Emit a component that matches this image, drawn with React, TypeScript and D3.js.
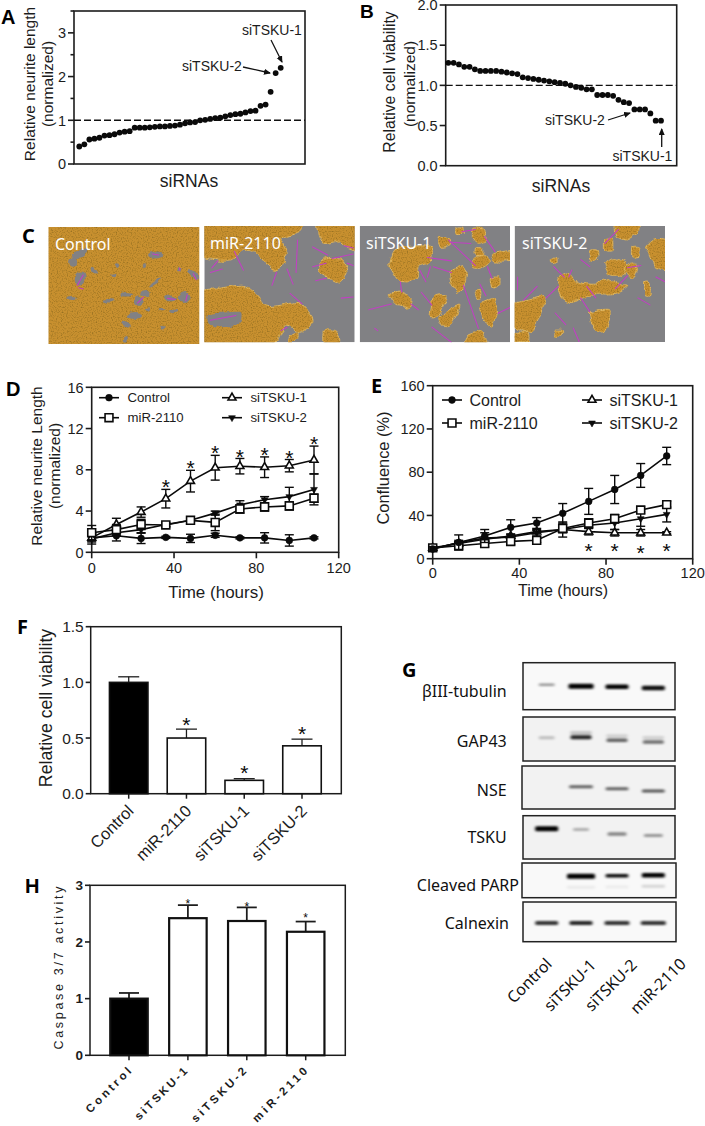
import React from "react";
import * as d3 from "d3";

const SANS = "'Liberation Sans', Arial, sans-serif";
const CAL = "'Noto Sans', 'Open Sans', sans-serif";
const INK = "#1c1c1c";

// Panel A and B
const neuriteLengths = [0.4,0.45,0.56,0.58,0.6,0.65,0.66,0.68,0.72,0.74,0.75,0.83,0.83,0.83,0.84,0.85,0.86,0.86,0.87,0.88,0.9,0.93,0.95,0.96,1.0,1.01,1.03,1.05,1.06,1.09,1.12,1.14,1.15,1.18,1.21,1.22,1.33,1.36,1.65,2.08,2.2];
const cellViability = [1.28,1.28,1.26,1.23,1.23,1.2,1.18,1.18,1.18,1.18,1.17,1.16,1.15,1.14,1.1,1.09,1.08,1.07,1.06,1.05,1.04,1.03,1.02,1.0,0.98,0.97,0.95,0.95,0.88,0.88,0.88,0.87,0.82,0.79,0.78,0.7,0.7,0.7,0.65,0.56,0.56];

// Panel D and E
const hours = [0,12,24,36,48,60,72,84,96,108];
const dControl = [1.4,1.6,1.35,1.45,1.35,1.65,1.4,1.4,1.15,1.4];
const dControlErr = [0.3,0.5,0.5,0.1,0.4,0.2,0.1,0.5,0.55,0.1];
const dMir = [1.9,2.2,2.7,2.65,3.1,2.9,4.2,4.4,4.5,5.25];
const dMirErr = [0.7,0.5,0.5,0.2,0.3,0.8,0.4,0.4,0.4,0.4];
const dT1 = [1.4,2.7,3.9,5.2,6.9,8.2,8.35,8.25,8.4,8.95];
const dT1Err = [0.4,0.6,0.5,0.9,1.05,1.2,0.75,1.0,0.6,1.35];
const dT2 = [1.3,1.9,2.2,2.7,3.1,3.8,4.6,5.1,5.4,6.1];
const dT2Err = [0.5,0.3,0.3,0.2,0.3,0.2,0.4,0.3,0.9,1.5];
const dStarHours = [36,48,60,72,84,96,108];
const dStarValues = [6.8,8.7,10.1,9.76,9.9,9.66,11.05];

const eControl = [9,15,21,29,33,42,53,64,77,95];
const eControlErr = [2,7,6,7,5,9,12,13,11,8];
const eMir = [10,12,14,16,17,28,33,37,45,50];
const eMirErr = [2,2,3,3,2,4,4,4,3,3];
const eT1 = [10,14,18,21,25,27,25,24,24,24];
const eT1Err = [1,1,1,1,1,1,3,3,3,1];
const eT2 = [9,15,19,20,24,27,31,33,37,41];
const eT2Err = [1,2,5,3,3,7,3,6,7,7];
const eStarHours = [72,84,96,108];
const eStarValues = [12,12,10,12];

// Panel F and H
const fCats = ["Control","miR-2110","siTSKU-1","siTSKU-2"];
const fVals = [1.0,0.5,0.12,0.43];
const fErr = [0.05,0.08,0.015,0.06];
const fStars = [null,0.66,0.23,0.58];
const hCats = ["Control","siTSKU-1","siTSKU-2","miR-2110"];
const hVals = [1.0,2.42,2.37,2.18];
const hErr = [0.1,0.23,0.24,0.18];
const hStars = [null,2.73,2.67,2.475];
const hLabelLengths = [59,69,72,72];

// Panel C micrographs: outlines in percent of each image
const controlHoles = [[21,23,6,3,-30],[16,30,3,4,0],[21,44,3.5,6,15],[30,37,3,2,30],[71,24,5,3,0],[87,36,1.5,2,0],[96,40,4,3,40],[71,47,5,1.5,-35],[64,57,3,3,0],[60,63,2.5,3.5,30],[52,57,4,1.5,0],[40,63,4,1.5,0],[15,61,3,2,0],[57,76,5,2.5,0],[51,83,3,1.5,20],[66,70,2,1.5,0],[81,61,4,2.5,0],[90,60,3.5,5,0],[51,96,1.5,3,20],[76,86,1.5,1.5,0],[43,41,2,1.5,0],[46,33,1.5,2,0],[83,72,3,1.5,0],[75,71,2,1,0],[64,33,1.5,2,0]];
const controlNeurites = [[23,41,19,50],[20,52,23,53],[69,23,73,24],[87,35,87,37],[59,65,63,60],[96,40,98,45],[79,61,84,62],[92,58,91,63]];
const mirBlobs = [
  [[-3,-3],[63,-3],[62,6],[51,11],[55,23],[53,33],[47,38],[41,33],[35,23],[26,21],[18,29],[8,29],[-3,25]],
  [[76,-3],[103,-3],[103,21],[95,19],[90,13],[80,15],[76,8]],
  [[81,28],[92,29],[95,41],[90,49],[83,45],[76,39],[77,32]],
  [[-3,58],[8,54],[26,51],[36,60],[41,69],[51,68],[63,66],[71,78],[71,86],[63,91],[55,86],[51,92],[44,103],[-3,103]],
  [[80,90],[87,90],[90,97],[89,103],[80,103]],
  [[56,94],[62,91],[62,97],[56,103]],
];
const mirHoles = [[[3,76],[24,74],[23,84],[11,87],[3,84]]];
const mirNeurites = [[48,40,45,51],[55,37,59,50],[62,12,61,40],[72,18,82,25],[93,17,99,19],[85,28,99,24],[95,32,99,34],[72,35,81,32],[74,47,81,45],[57,58,65,67],[91,62,99,61],[51,90,55,87],[4,40,12,37],[20,22,26,38],[4,81,21,77],[9,30,5,36]];
const t1Blobs = [
  [[23,21],[30,18],[39,17],[48,18],[48,28],[45,32],[39,35],[38,44],[33,48],[26,47],[20,34]],
  [[52,10],[60,11],[60,17],[54,19]],
  [[76,2],[83,3],[84,12],[79,15],[75,9]],
  [[75,30],[81,25],[87,30],[82,36],[76,36]],
  [[60,40],[68,35],[71,42],[69,54],[65,57],[61,50]],
  [[19,58],[28,57],[34,61],[33,71],[27,68],[23,67]],
  [[49,61],[57,59],[57,65],[51,78],[47,78]],
  [[53,77],[66,68],[66,72],[60,85],[54,85]],
  [[87,45],[93,44],[93,52],[88,54]],
  [[80,67],[90,62],[91,73],[88,87],[84,82],[81,77]],
  [[69,103],[72,93],[81,90],[84,97],[84,103]],
  [[77,55],[81,55],[81,62],[78,63]],
  [[88,24],[103,21],[103,29],[90,30]],
  [[64,2],[68,2],[68,7],[64,7]],
  [[77,19],[81,19],[81,25],[77,25]],
];
const t1Neurites = [[6,72,21,67],[27,48,28,57],[49,35,61,40],[69,51,79,88],[59,12,77,34],[83,9,90,22],[68,5,77,3],[45,27,61,30],[48,87,61,100],[34,67,39,72],[41,57,48,68],[40,38,44,48],[47,35,45,44],[84,60,80,50],[10,88,12,90],[60,14,74,15],[85,35,88,45],[92,75,100,70]];
const t2Blobs = [
  [[66,-3],[82,-3],[82,6],[75,12],[67,9]],
  [[87,18],[93,11],[103,13],[103,39],[94,35],[90,24]],
  [[24,28],[28,28],[28,32],[24,32]],
  [[50,21],[55,21],[55,29],[50,29]],
  [[60,11],[65,11],[65,21],[60,21]],
  [[78,18],[83,18],[83,26],[78,26]],
  [[86,49],[90,49],[90,59],[86,59]],
  [[29,45],[36,41],[42,49],[53,51],[60,45],[69,51],[75,52],[67,58],[55,59],[46,62],[37,66],[31,62],[29,54]],
  [[60,32],[67,28],[75,33],[72,42],[63,42]],
  [[73,36],[79,31],[82,35],[79,45],[75,42]],
  [[-3,68],[9,64],[20,61],[18,75],[14,84],[12,91],[6,91],[-3,85]],
  [[50,74],[63,72],[63,81],[60,91],[53,90]],
  [[1,92],[9,92],[9,100],[1,100]],
  [[27,90],[31,90],[31,94],[27,94]],
];
const t2Neurites = [[26,35,33,44],[2,44,2,55],[15,52,6,64],[29,52,21,62],[44,62,50,74],[69,3,60,15],[44,29,50,35],[75,43,67,54],[84,34,75,36],[94,44,100,48],[27,75,34,85],[43,100,39,88],[54,62,48,52],[38,38,36,44],[82,62,90,68]];

// Panel G blots
const laneCenters = [440,543,651,760];
const blotNames = ["βIII-tubulin","GAP43","NSE","TSKU","Cleaved PARP","Calnexin"];
const blotStrength = [
  [0.4,1,1,0.95],
  [0.22,0.85,0.6,0.55],
  [0.02,0.6,0.6,0.65],
  [1,0.28,0.45,0.38],
  [0,1,0.95,1],
  [0.8,0.85,0.8,0.8],
];
const blotWidths = [
  [20,29,27,27],
  [20,25,25,25],
  [0,28,27,27],
  [27,20,23,23],
  [0,32,27,27],
  [27,27,29,29],
];
const blotThickness = [
  [2.5,5,4.5,4.5],
  [3,4,3.5,3.5],
  [1,3,3,3],
  [5,3,3.5,3],
  [1,5,3.5,4.5],
  [4,4,4,4],
];
const blotCentres = [
  [0.47,0.5,0.51,0.54],
  [0.47,0.46,0.53,0.57],
  [0,0.48,0.53,0.58],
  [0.3,0.32,0.42,0.46],
  [0,0.38,0.37,0.35],
  [0.53,0.53,0.53,0.53],
];
const blotLowerBand = [
  [0,0,0,0],
  [0,0.22,0.15,0.15],
  [0,0,0,0],
  [0,0,0,0],
  [0,0.06,0.05,0.14],
  [0,0,0,0],
];
const blotFrames = [
  [523,662.7,675,709.7],
  [523,717,675,761],
  [522,766,675,809],
  [523,815.7,675,859],
  [522,863,676,897.7],
  [523,902,676,941.7],
];
const blotLabelPos = [[506.7,697],[506.7,746.7],[506.7,795.7],[506.7,843.3],[519,890.7],[509,929]];
const blotLaneLabels = ["Control","siTSKU-1","siTSKU-2","miR-2110"];
const blotLaneEnds = [[553,956],[597,957],[638,957],[687,956]];

const tr = (x:number,y:number,a:number)=>`translate(${x},${y}) rotate(${a})`;

function Frame({x0,x1,y0,y1,w=1.6}:any){
  return <rect x={x0} y={y0} width={x1-x0} height={y1-y0} fill="none" stroke={INK} strokeWidth={w}/>;
}
function YTicks({y,x0,ticks,fmt,size=14,len=6,weight,minor=[],w=1.6}:any){
  return <g>
    {ticks.map((t:number)=><g key={t}>
      <line x1={x0-len} x2={x0} y1={y(t)} y2={y(t)} stroke={INK} strokeWidth={w}/>
      <text x={x0-len-2} y={y(t)+size*0.36} textAnchor="end" fontSize={size} fontFamily={SANS} fontWeight={weight} fill={INK}>{fmt?fmt(t):t}</text>
    </g>)}
    {minor.map((t:number)=><line key={t} x1={x0-3.5} x2={x0} y1={y(t)} y2={y(t)} stroke={INK} strokeWidth={w}/>)}
  </g>;
}
function XTicks({x,y0,ticks,size=14,base}:any){
  return <g>{ticks.map((t:number)=><g key={t}>
    <line x1={x(t)} x2={x(t)} y1={y0} y2={y0+6} stroke={INK} strokeWidth={1.6}/>
    <text x={x(t)} y={base} textAnchor="middle" fontSize={size} fontFamily={SANS} fill={INK}>{t}</text>
  </g>)}</g>;
}
function Txt({x,y,size=14,anchor="start",rot,font=SANS,weight,fill=INK,children,len}:any){
  return <text transform={rot!==undefined?tr(x,y,rot):undefined} x={rot!==undefined?0:x} y={rot!==undefined?0:y}
    textAnchor={anchor} fontSize={size} fontFamily={font} fontWeight={weight} fill={fill}
    textLength={len} lengthAdjust={len?"spacing":undefined}>{children}</text>;
}
function Arrow({x1,y1,x2,y2}:any){
  return <line x1={x1} y1={y1} x2={x2} y2={y2} stroke="#111" strokeWidth={1.3} markerEnd="url(#ah)"/>;
}
function DotPanel({vals,x0,x1,y0,y1,yMax,ticks,fmt,minor,xStart,xEnd}:any){
  const y = d3.scaleLinear([0,yMax],[y1,y0]);
  const x = d3.scaleLinear([0,vals.length-1],[xStart,xEnd]);
  return <g>
    <Frame x0={x0} x1={x1} y0={y0} y1={y1}/>
    <YTicks y={y} x0={x0} ticks={ticks} fmt={fmt} minor={minor} size={14.5}/>
    <line x1={x0} x2={x1} y1={y(1)} y2={y(1)} stroke="#111" strokeWidth={1.4} strokeDasharray="7 3"/>
    {vals.map((v:number,i:number)=><circle key={i} cx={x(i)} cy={y(v)} r={2.9} fill="#0a0a0a"/>)}
  </g>;
}

const markerPaths:any = {
  circle: d3.symbol(d3.symbolCircle, 36)()!,
  square: d3.symbol(d3.symbolSquare, 62)()!,
  up: d3.symbol(d3.symbolTriangle, 27)()!,
  down: d3.symbol(d3.symbolTriangle, 20)()!,
};
function Marker({kind,x,y}:any){
  const open = kind==="square"||kind==="up";
  return <path d={markerPaths[kind]} transform={`translate(${x},${y})${kind==="down"?" rotate(180)":""}`}
    fill={open?"#fff":"#0a0a0a"} stroke="#0a0a0a" strokeWidth={open?1.6:0.6}/>;
}
function Series({x,y,vals,errs,kind}:any){
  const l = d3.line<number>().x((_,i)=>x(hours[i])).y(d=>y(d));
  return <g>
    <path d={l(vals)!} fill="none" stroke="#0a0a0a" strokeWidth={1.6}/>
    {vals.map((v:number,i:number)=>{
      const px=x(hours[i]), hi=y(v+errs[i]), lo=y(Math.max(0,v-errs[i]));
      return <g key={i} stroke="#0a0a0a" strokeWidth={1.4}>
        <line x1={px} x2={px} y1={hi} y2={lo}/>
        <line x1={px-4.5} x2={px+4.5} y1={hi} y2={hi}/>
        <line x1={px-4.5} x2={px+4.5} y1={lo} y2={lo}/>
      </g>;
    })}
    {vals.map((v:number,i:number)=><Marker key={i} kind={kind} x={x(hours[i])} y={y(v)}/>)}
  </g>;
}
function Star({x,y,size=21}:any){
  return <text x={x} y={y+size*0.58} textAnchor="middle" fontSize={size} fontFamily={SANS} fill="#0a0a0a">*</text>;
}
function Legend({col1,col2,rowY,size,textGap}:any){
  const rows = [[col1,rowY[0],"circle","Control"],[col1,rowY[1],"square","miR-2110"],[col2,rowY[0],"up","siTSKU-1"],[col2,rowY[1],"down","siTSKU-2"]] as any[];
  return <g>{rows.map(([c,ry,k,t])=><g key={t}>
    <line x1={c} x2={c+20} y1={ry} y2={ry} stroke="#0a0a0a" strokeWidth={1.6}/>
    <Marker kind={k} x={c+10} y={ry}/>
    <Txt x={c+20+textGap} y={ry+size*0.36} size={size}>{t}</Txt>
  </g>)}</g>;
}
function Bars({x0,x1,y0,y1,yMax,ticks,fmt,cats,vals,errs,stars,centers,barW,sw,tickSize,tickWeight,starSize,capW}:any){
  const y = d3.scaleLinear([0,yMax],[y1,y0]);
  const x = d3.scalePoint<string>().domain(cats).range([centers[0],centers[1]]);
  return <g>
    <Frame x0={x0} x1={x1} y0={y0} y1={y1} w={1.5}/>
    <YTicks y={y} x0={x0} ticks={ticks} fmt={fmt} size={tickSize} weight={tickWeight} len={5}/>
    {cats.map((c:string,i:number)=>{
      const cx=x(c)!;
      return <g key={c}>
        <line x1={cx} x2={cx} y1={y1} y2={y1+5} stroke={INK} strokeWidth={1.5}/>
        <line x1={cx} x2={cx} y1={y(vals[i])} y2={y(vals[i]+errs[i])} stroke={INK} strokeWidth={sw*0.8}/>
        <line x1={cx-capW} x2={cx+capW} y1={y(vals[i]+errs[i])} y2={y(vals[i]+errs[i])} stroke={INK} strokeWidth={sw*0.8}/>
        <rect x={cx-barW/2} y={y(vals[i])} width={barW} height={y1-y(vals[i])} fill={i===0?"#000":"#fff"} stroke="#111" strokeWidth={sw}/>
        {stars[i]!==null && <Star x={cx} y={y(stars[i])} size={starSize}/>}
      </g>;
    })}
  </g>;
}

function Micro({rect,id,label,holes,neurites,blobs,innerHoles,labelX}:any){
  const [x0,y0,x1,y1]=rect;
  const u=d3.scaleLinear([0,100],[x0,x1]), v=d3.scaleLinear([0,100],[y0,y1]);
  const shape=d3.line<number[]>().x(p=>u(p[0])).y(p=>v(p[1])).curve(d3.curveCardinalClosed.tension(0.45));
  const GRAY="#818184";
  return <g>
    <clipPath id={id}><rect x={x0} y={y0} width={x1-x0} height={y1-y0}/></clipPath>
    <g clipPath={`url(#${id})`}>
      {blobs ? <g>
        <rect x={x0} y={y0} width={x1-x0} height={y1-y0} fill={GRAY}/>
        <g filter="url(#cell)">
          {blobs.map((b:number[][],i:number)=><path key={i} d={shape(b)!} fill="#c8902f" stroke="#e3b75c" strokeWidth={1}/>)}
        </g>
        {(innerHoles||[]).map((b:number[][],i:number)=><path key={i} d={shape(b)!} fill={GRAY} filter="url(#edge)"/>)}
      </g> : <g>
        <rect x={x0-6} y={y0-6} width={x1-x0+12} height={y1-y0+12} fill="#c8902f" filter="url(#cell)"/>
        <g filter="url(#edge)">
          {holes.map((h:number[],i:number)=><ellipse key={i} transform={tr(u(h[0]),v(h[1]),h[4])} rx={u(h[2])-u(0)} ry={v(h[3])-v(0)} fill={GRAY}/>)}
        </g>
      </g>}
      <g filter="url(#edge2)">
        {neurites.map((n:number[],i:number)=><line key={i} x1={u(n[0])} y1={v(n[1])} x2={u(n[2])} y2={v(n[3])} stroke="#c23fc4" strokeWidth={1.05} strokeLinecap="round"/>)}
      </g>
    </g>
    <Txt x={labelX} y={y0+23} size={16} font={CAL} fill="#fff">{label}</Txt>
  </g>;
}

function Blots(){
  const laneX = d3.scaleOrdinal<number,number>().domain([0,1,2,3]).range(laneCenters.map(c=>400+c/3));
  return <g>
    {blotFrames.map((f,r)=>{
      const [x0,y0,x1,y1]=f;
      const rowY = d3.scaleLinear([0,1],[y0,y1]);
      const bg = r===0||r===4||r===5?"#f9f9f9":"#f2f2f2";
      return <g key={r}>
        <clipPath id={`blot${r}`}><rect x={x0} y={y0} width={x1-x0} height={y1-y0}/></clipPath>
        <rect x={x0} y={y0} width={x1-x0} height={y1-y0} fill={bg}/>
        <g clipPath={`url(#blot${r})`} filter="url(#blur)">
          {blotStrength[r].map((s,i)=> s<=0.01?null:<g key={i}>
            <rect x={laneX(i)-blotWidths[r][i]/2+2} y={rowY(blotCentres[r][i])-blotThickness[r][i]/2} width={blotWidths[r][i]-4} height={blotThickness[r][i]} rx={1.5} fill="#000" opacity={s}/>
            {blotLowerBand[r][i]>0 && <rect x={laneX(i)-blotWidths[r][i]/2+2} y={rowY(blotCentres[r][i]+(r===4?0.32:-0.1))-1.5} width={blotWidths[r][i]-4} height={3} fill="#000" opacity={blotLowerBand[r][i]}/>}
          </g>)}
        </g>
        <rect x={x0} y={y0} width={x1-x0} height={y1-y0} fill="none" stroke="#222" strokeWidth={1.5}/>
        <Txt x={blotLabelPos[r][0]} y={blotLabelPos[r][1]} size={16} font={CAL} anchor="end" fill="#111">{blotNames[r]}</Txt>
      </g>;
    })}
    {blotLaneLabels.map((t,i)=><Txt key={t} x={blotLaneEnds[i][0]} y={blotLaneEnds[i][1]+9} rot={-45} anchor="end" size={16} font={CAL} fill="#111">{t}</Txt>)}
  </g>;
}

export default function App(){
  const dx=d3.scaleLinear([0,120],[91.7,338.7]), dy=d3.scaleLinear([0,16],[552.3,387.3]);
  const ex=d3.scaleLinear([0,120],[432.7,692.7]), ey=d3.scaleLinear([0,160],[558.7,385.7]);
  const f1=d3.format(".1f");
  return <svg width={705} height={1126} style={{position:"absolute",left:0,top:0,background:"#fff"}}>
    <defs>
      <marker id="ah" markerWidth="8" markerHeight="8" refX="6" refY="3" orient="auto" markerUnits="userSpaceOnUse">
        <path d="M0,0 L7,3 L0,6 Z" fill="#111"/>
      </marker>
      <filter id="cell" x="-5%" y="-5%" width="110%" height="110%" colorInterpolationFilters="sRGB">
        <feTurbulence type="fractalNoise" baseFrequency="0.1" numOctaves="2" seed="3" result="n"/>
        <feDisplacementMap in="SourceGraphic" in2="n" scale="6" xChannelSelector="R" yChannelSelector="G" result="d"/>
        <feTurbulence type="fractalNoise" baseFrequency="0.8" numOctaves="1" seed="8" result="g"/>
        <feColorMatrix in="g" type="matrix" values="0 0 0 0 0.42  0 0 0 0 0.33  0 0 0 0 0.08  0 0 0 1.5 -0.72" result="speck"/>
        <feComposite in="speck" in2="d" operator="in" result="sp"/>
        <feMerge><feMergeNode in="d"/><feMergeNode in="sp"/></feMerge>
      </filter>
      <filter id="edge" x="-5%" y="-5%" width="110%" height="110%" colorInterpolationFilters="sRGB">
        <feTurbulence type="fractalNoise" baseFrequency="0.12" numOctaves="2" seed="5" result="n"/>
        <feDisplacementMap in="SourceGraphic" in2="n" scale="5" xChannelSelector="R" yChannelSelector="G"/>
      </filter>
      <filter id="edge2" x="-5%" y="-5%" width="110%" height="110%" colorInterpolationFilters="sRGB">
        <feGaussianBlur stdDeviation="0.3"/>
      </filter>
      <filter id="blur" x="-10%" y="-60%" width="120%" height="220%" colorInterpolationFilters="sRGB">
        <feGaussianBlur stdDeviation="1.6 1.1"/>
      </filter>
    </defs>

    {/* A */}
    <DotPanel vals={neuriteLengths} x0={74} x1={305} y0={11} y1={164} yMax={3.5} ticks={[0,1,2,3]} minor={[0.5,1.5,2.5,3.5]} xStart={79.3} xEnd={280.7}/>
    <text transform={tr(35,84,-90)} textAnchor="middle" fontSize={15.5} fontFamily={SANS} fill={INK}>Relative neurite length</text>
    <text transform={tr(53,84,-90)} textAnchor="middle" fontSize={15.5} fontFamily={SANS} fill={INK}>(normalized)</text>
    <Txt x={189} y={187} size={17.5} anchor="middle">siRNAs</Txt>
    <Txt x={242} y={35} size={14}>siTSKU-1</Txt>
    <Txt x={182} y={71} size={14}>siTSKU-2</Txt>
    <Arrow x1={271} y1={40} x2={282} y2={62}/>
    <Arrow x1={243} y1={67} x2={270} y2={73}/>
    <Txt x={1} y={24} size={20} weight="bold" fill="#000">A</Txt>

    {/* B */}
    <DotPanel vals={cellViability} x0={445.7} x1={676.7} y0={5} y1={165.7} yMax={2} ticks={[0,0.5,1,1.5,2]} fmt={f1} xStart={448.3} xEnd={661}/>
    <text transform={tr(395,82,-90)} textAnchor="middle" fontSize={15.8} fontFamily={SANS} fill={INK}>Relative cell viability</text>
    <text transform={tr(415,84,-90)} textAnchor="middle" fontSize={15.5} fontFamily={SANS} fill={INK}>(normalized)</text>
    <Txt x={561} y={192} size={17.5} anchor="middle">siRNAs</Txt>
    <Txt x={545} y={125} size={14}>siTSKU-2</Txt>
    <Txt x={612.5} y={161} size={14}>siTSKU-1</Txt>
    <Arrow x1={608} y1={120} x2={630} y2={113}/>
    <Arrow x1={661.7} y1={147} x2={661.7} y2={129}/>
    <Txt x={360} y={18} size={19} weight="bold" fill="#000">B</Txt>

    {/* C */}
    <Txt x={22} y={243} size={20} weight="bold" font={CAL} fill="#000">C</Txt>
    <Micro id="m1" rect={[48.5,227,199.3,344]} label="Control" holes={controlHoles} neurites={controlNeurites} labelX={55}/>
    <Micro id="m2" rect={[204.3,226,354.7,342.3]} label="miR-2110" blobs={mirBlobs} innerHoles={mirHoles} neurites={mirNeurites} labelX={210}/>
    <Micro id="m3" rect={[359.7,226,510,342.3]} label="siTSKU-1" blobs={t1Blobs} neurites={t1Neurites} labelX={366}/>
    <Micro id="m4" rect={[514.6,226,665,342]} label="siTSKU-2" blobs={t2Blobs} neurites={t2Neurites} labelX={522}/>

    {/* D */}
    <Frame x0={91.7} x1={338.7} y0={387.3} y1={552.3}/>
    <YTicks y={dy} x0={91.7} ticks={[0,4,8,12,16]} size={14.5}/>
    <XTicks x={dx} y0={552.3} ticks={[0,40,80,120]} base={573} size={14.5}/>
    <Series x={dx} y={dy} vals={dControl} errs={dControlErr} kind="circle"/>
    <Series x={dx} y={dy} vals={dT2} errs={dT2Err} kind="down"/>
    <Series x={dx} y={dy} vals={dT1} errs={dT1Err} kind="up"/>
    <Series x={dx} y={dy} vals={dMir} errs={dMirErr} kind="square"/>
    {dStarHours.map((h,i)=><Star key={h} x={dx(h)} y={dy(dStarValues[i])}/>)}
    <Legend col1={99} col2={222} rowY={[397.7,417.7]} size={13.2} textGap={8.5}/>
    <text transform={tr(42,466,-90)} textAnchor="middle" fontSize={15.5} fontFamily={SANS} fill={INK}>Relative neurite Length</text>
    <text transform={tr(60,466,-90)} textAnchor="middle" fontSize={15.5} fontFamily={SANS} fill={INK}>(normalized)</text>
    <Txt x={216} y={598} size={17} anchor="middle">Time (hours)</Txt>
    <Txt x={6} y={396} size={20} weight="bold" fill="#000">D</Txt>

    {/* E */}
    <Frame x0={432.7} x1={692.7} y0={385.7} y1={558.7}/>
    <YTicks y={ey} x0={432.7} ticks={[0,40,80,120,160]} size={14.5}/>
    <XTicks x={ex} y0={558.7} ticks={[0,40,80,120]} base={578} size={14.5}/>
    <Series x={ex} y={ey} vals={eT1} errs={eT1Err} kind="up"/>
    <Series x={ex} y={ey} vals={eT2} errs={eT2Err} kind="down"/>
    <Series x={ex} y={ey} vals={eMir} errs={eMirErr} kind="square"/>
    <Series x={ex} y={ey} vals={eControl} errs={eControlErr} kind="circle"/>
    {eStarHours.map((h,i)=><Star key={h} x={ex(h)} y={ey(eStarValues[i])}/>)}
    <Legend col1={442} col2={582} rowY={[400,423]} size={16} textGap={7.5}/>
    <text transform={tr(389,468,-90)} textAnchor="middle" fontSize={16.4} fontFamily={SANS} fill={INK}>Confluence (%)</text>
    <Txt x={563} y={595.5} size={16} anchor="middle">Time (hours)</Txt>
    <Txt x={371} y={393} size={20} weight="bold" font={CAL} fill="#000">E</Txt>

    {/* F */}
    <Bars x0={90.7} x1={341.3} y0={626.7} y1={793.7} yMax={1.5} ticks={[0,0.5,1,1.5]} fmt={f1} cats={fCats} vals={fVals} errs={fErr} stars={fStars} centers={[128.7,302]} barW={38.5} sw={1.6} tickSize={15.5} starSize={21} capW={10.5}/>
    <text transform={tr(52,708,-90)} textAnchor="middle" fontSize={17.7} fontFamily={SANS} fill={INK}>Relative cell viability</text>
    {fCats.map((c,i)=><Txt key={c} x={[128.7,186.5,244.3,302][i]+6} y={805+7} rot={-45} anchor="end" size={16.5}>{c}</Txt>)}
    <Txt x={17} y={634} size={20} weight="bold" font={CAL} fill="#000">F</Txt>

    {/* G */}
    <Txt x={402} y={677} size={20} weight="bold" font={CAL} fill="#000">G</Txt>
    <Blots/>

    {/* H */}
    <Bars x0={90} x1={345.3} y0={885.3} y1={1055.3} yMax={3} ticks={[0,1,2,3]} cats={hCats} vals={hVals} errs={hErr} stars={hStars} centers={[129,305.7]} barW={37.5} sw={2.2} tickSize={13.5} tickWeight="bold" starSize={12} capW={10}/>
    <text transform={tr(63,968,-90)} textAnchor="middle" fontSize={12.5} fontFamily={SANS} fill="#222" textLength={163} lengthAdjust="spacing">Caspase 3/7 activity</text>
    {hCats.map((c,i)=><Txt key={c} x={[132,188,247,308][i]} y={1072} rot={-45} anchor="end" size={11.5} weight="bold" len={hLabelLengths[i]}>{c}</Txt>)}
    <Txt x={25} y={893} size={20} weight="bold" fill="#000">H</Txt>
  </svg>;
}
